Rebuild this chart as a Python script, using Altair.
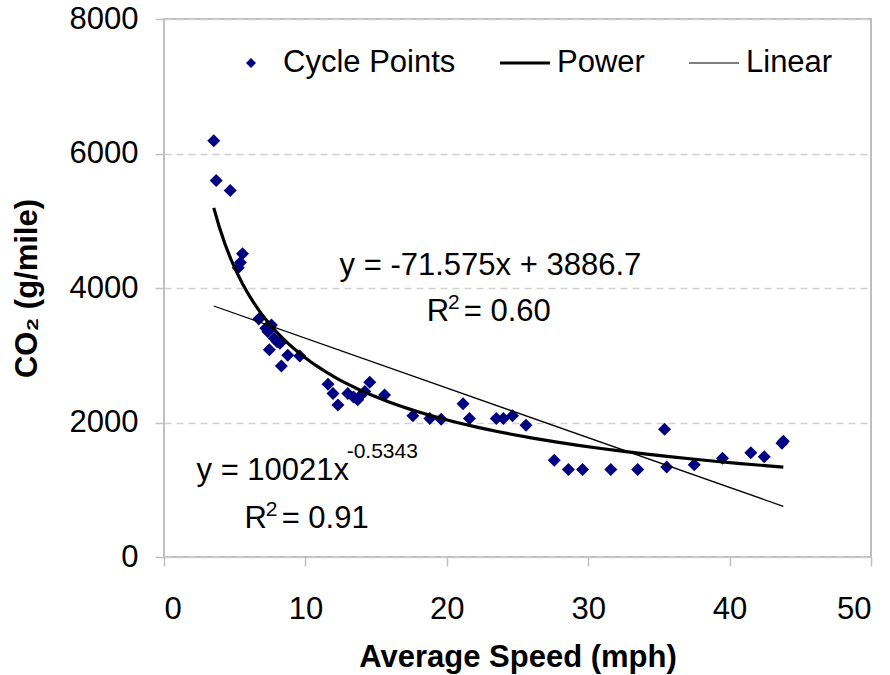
import altair as alt
import pandas as pd

# ---- data ----
speed = [3.52, 3.69, 4.68, 5.55, 5.40, 5.25, 6.70, 7.20, 7.60, 7.35, 7.80, 8.00, 8.20,
         7.45, 8.75, 9.60, 8.30, 11.6, 11.95, 12.3, 13.0, 13.4, 13.7, 13.9, 14.2, 14.55,
         15.6, 17.6, 18.8, 19.6, 21.15, 21.6, 23.5, 24.0, 24.65, 25.6, 27.6, 28.6, 29.6,
         31.6, 33.5, 35.4, 35.55, 37.5, 39.5, 41.5, 42.45, 43.7, 43.8]
co2 = [6190, 5600, 5450, 4510, 4380, 4300, 3540, 3400, 3450, 3350, 3250, 3200, 3180,
       3080, 3000, 2990, 2840, 2570, 2430, 2260, 2430, 2380, 2340, 2400, 2460, 2600,
       2410, 2100, 2060, 2050, 2280, 2060, 2060, 2060, 2100, 1960, 1440, 1300, 1300,
       1300, 1300, 1900, 1340, 1370, 1470, 1550, 1490, 1690, 1720]

series_names = ["Cycle Points", "Power", "Linear"]
x_ticks = [0, 10, 20, 30, 40, 50]
y_ticks = [0, 2000, 4000, 6000, 8000]

# annotation texts (equation labels)
main_text = ["y = -71.575x + 3886.7", "R", "= 0.60", "y = 10021x", "R", "= 0.91"]
main_x = [12.42, 18.58, 21.2, 2.30, 5.70, 8.32]
main_y = [4193, 3509, 3509, 1145, 431, 431]
sup_text = ["2", "-0.5343", "2"]
sup_x = [20.08, 12.92, 7.2]
sup_y = [3688, 1472, 610]

FONT = "Liberation Sans"

pts = pd.DataFrame({"speed": speed, "co2": co2})
ann_main = pd.DataFrame({"t": main_text, "x": main_x, "y": main_y})
ann_sup = pd.DataFrame({"t": sup_text, "x": sup_x, "y": sup_y})

xscale = alt.Scale(domain=[0, 50], nice=False, zero=False)
yscale = alt.Scale(domain=[0, 8000], nice=False)

xaxis = alt.Axis(values=x_ticks, title="Average Speed (mph)", grid=False, format="d",
                 labelFontSize=31, labelFont=FONT, labelColor="black", labelPadding=28,
                 titleFont=FONT, titleFontSize=31, titleFontWeight="bold", titleColor="black",
                 titleBaseline="alphabetic", titleY=109,
                 tickColor="#c0c0c0", tickWidth=1.5, tickSize=9, domain=False)
yaxis = alt.Axis(values=y_ticks, title="CO₂ (g/mile)", grid=True, format="d",
                 gridDash=[7, 5], gridColor="#d0d0d0", gridWidth=1.5,
                 labelFontSize=31, labelFont=FONT, labelColor="black", labelPadding=17,
                 titleFont=FONT, titleFontSize=31, titleFontWeight="bold", titleColor="black",
                 titleBaseline="alphabetic", titleX=-128, titleAngle=-90,
                 tickColor="#c0c0c0", tickWidth=1.5, tickSize=9, domain=False)

diamond = "M0,-0.2L0.2,0L0,0.2L-0.2,0Z"
thick = "M-1,-0.06H1V0.06H-1Z"
thin = "M-1,-0.022H1V0.022H-1Z"

legend = alt.Legend(orient="none", legendX=62, legendY=19, direction="horizontal",
                    title=None, labelFont=FONT, labelFontSize=31, labelColor="black",
                    labelLimit=0,
                    symbolSize=2500, symbolStrokeWidth=0, labelOffset=7,
                    columnPadding=44, padding=0)

points = alt.Chart(pts).transform_calculate(series="'Cycle Points'").mark_point(
    filled=True, size=4225, opacity=1
).encode(
    x=alt.X("speed:Q", scale=xscale, axis=xaxis),
    y=alt.Y("co2:Q", scale=yscale, axis=yaxis),
    color=alt.Color("series:N", scale=alt.Scale(domain=series_names,
                                                 range=["#000080", "black", "black"]),
                    legend=legend),
    shape=alt.Shape("series:N", scale=alt.Scale(domain=series_names,
                                                 range=[diamond, thick, thin]),
                    legend=legend),
)

power = alt.Chart(pts).transform_regression(
    "speed", "co2", method="pow"
).mark_line(color="black", strokeWidth=3.2).encode(
    x=alt.X("speed:Q", scale=xscale), y=alt.Y("co2:Q", scale=yscale)
)

linear = alt.Chart(pts).transform_regression(
    "speed", "co2", method="linear"
).mark_line(color="black", strokeWidth=1.3).encode(
    x=alt.X("speed:Q", scale=xscale), y=alt.Y("co2:Q", scale=yscale)
)

txt_main = alt.Chart(ann_main).mark_text(
    align="left", baseline="alphabetic", font=FONT, fontSize=31, color="black"
).encode(x=alt.X("x:Q", scale=xscale), y=alt.Y("y:Q", scale=yscale), text="t:N")

txt_sup = alt.Chart(ann_sup).mark_text(
    align="left", baseline="alphabetic", font=FONT, fontSize=21, color="black"
).encode(x=alt.X("x:Q", scale=xscale), y=alt.Y("y:Q", scale=yscale), text="t:N")

chart = alt.layer(points, power, linear, txt_main, txt_sup).properties(
    width=707, height=538,
    autosize=alt.AutoSizeParams(type="none"),
    padding={"left": 164, "top": 19, "right": 19, "bottom": 118},
    background="white",
).configure_view(stroke="#bfbfbf", strokeWidth=2)

chart.save("out.html", embed_options={"renderer": "svg", "actions": False})
